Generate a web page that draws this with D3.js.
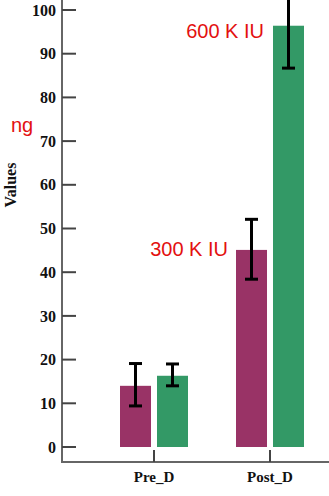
<!DOCTYPE html>
<html>
<head>
<meta charset="utf-8">
<script src="https://cdn.jsdelivr.net/npm/d3@7"></script>
<style>
  html, body { margin: 0; padding: 0; background: #fff; }
  svg { display: block; }
  .tick-label { font-family: "Liberation Serif", "Times New Roman", serif; font-weight: bold; font-size: 16px; fill: #111; }
  .note { font-family: "Liberation Sans", Arial, sans-serif; font-size: 20px; fill: #e3100f; }
</style>
</head>
<body>
<svg id="chart" width="329" height="496"></svg>
<script>
const groups = ["Pre_D", "Post_D"];
const series = ["300 K IU", "600 K IU"];
const meanValues = [
  [14.0, 16.3],  // Pre_D
  [45.1, 96.4]   // Post_D
];
const errLow = [
  [9.4, 14.0],
  [38.4, 86.7]
];
const errHigh = [
  [19.1, 19.0],
  [52.1, 106.1]
];
const yTicks = [0, 10, 20, 30, 40, 50, 60, 70, 80, 90, 100];
const colors = ["#993366", "#339966"];

const svg = d3.select("#chart");
const width = 329;
const height = 496;
const axisX = 62;
const axisY = 462;

const y = d3.scaleLinear().domain([0, 100]).range([447, 10]);
const x0 = d3.scaleBand().domain(groups).range([96, 328]).padding(0);
const x1 = d3.scaleBand().domain(series).range([0, 68]).paddingInner(0.162);

const clip = svg.append("defs").append("clipPath").attr("id", "plot-clip");
clip.append("rect").attr("x", axisX).attr("y", 0).attr("width", width - axisX).attr("height", axisY);

const plot = svg.append("g").attr("clip-path", "url(#plot-clip)");

const rows = [];
groups.forEach((g, gi) => {
  series.forEach((s, si) => {
    rows.push({ group: g, series: s, si, value: meanValues[gi][si], lo: errLow[gi][si], hi: errHigh[gi][si] });
  });
});

const barX = (d) => x0(d.group) + x0.bandwidth() / 2 - 34 + x1(d.series);

plot.selectAll(".bar")
  .data(rows)
  .join("rect")
  .attr("class", "bar")
  .attr("x", barX)
  .attr("y", (d) => y(d.value))
  .attr("width", x1.bandwidth())
  .attr("height", (d) => y(0) - y(d.value))
  .attr("fill", (d) => colors[d.si]);

const err = plot.selectAll(".err")
  .data(rows)
  .join("g")
  .attr("class", "err")
  .attr("stroke", "#000")
  .attr("stroke-width", 3);

err.append("line")
  .attr("x1", (d) => barX(d) + x1.bandwidth() / 2)
  .attr("x2", (d) => barX(d) + x1.bandwidth() / 2)
  .attr("y1", (d) => y(d.lo))
  .attr("y2", (d) => y(d.hi));

["lo", "hi"].forEach((k) => {
  err.append("line")
    .attr("x1", (d) => barX(d) + x1.bandwidth() / 2 - 6.5)
    .attr("x2", (d) => barX(d) + x1.bandwidth() / 2 + 6.5)
    .attr("y1", (d) => y(d[k]))
    .attr("y2", (d) => y(d[k]));
});

// y axis
const yAxis = svg.append("g").attr("transform", `translate(${axisX},0)`);
yAxis.append("line").attr("x1", 0).attr("x2", 0).attr("y1", 0).attr("y2", axisY)
  .attr("stroke", "#666").attr("stroke-width", 2);
yAxis.selectAll(".yt")
  .data(yTicks)
  .join("line")
  .attr("x1", 0).attr("x2", 14)
  .attr("y1", (d) => y(d)).attr("y2", (d) => y(d))
  .attr("stroke", "#444").attr("stroke-width", 2);
yAxis.selectAll(".tick-label")
  .data(yTicks)
  .join("text")
  .attr("class", "tick-label")
  .attr("x", -6)
  .attr("y", (d) => y(d))
  .attr("dy", "0.35em")
  .attr("text-anchor", "end")
  .text((d) => d);

// x axis
const xAxis = svg.append("g").attr("transform", `translate(0,${axisY})`);
xAxis.append("line").attr("x1", axisX - 1).attr("x2", width).attr("y1", 0).attr("y2", 0)
  .attr("stroke", "#666").attr("stroke-width", 2);
xAxis.selectAll(".xt")
  .data(groups)
  .join("line")
  .attr("x1", (d) => x0(d) + x0.bandwidth() / 2)
  .attr("x2", (d) => x0(d) + x0.bandwidth() / 2)
  .attr("y1", 0).attr("y2", -12)
  .attr("stroke", "#444").attr("stroke-width", 2);
xAxis.selectAll(".tick-label")
  .data(groups)
  .join("text")
  .attr("class", "tick-label")
  .attr("x", (d) => x0(d) + x0.bandwidth() / 2)
  .attr("y", 20)
  .attr("text-anchor", "middle")
  .style("font-size", "15px")
  .text((d) => d);

// axis title
svg.append("text")
  .attr("class", "tick-label")
  .attr("transform", "translate(16,185) rotate(-90)")
  .attr("text-anchor", "middle")
  .style("font-size", "16px")
  .text("Values");

// annotations
svg.append("text").attr("class", "note").attr("x", 11).attr("y", 132).text("ng");
svg.append("text").attr("class", "note").attr("x", 228).attr("y", 256).attr("text-anchor", "end").text(series[0]);
svg.append("text").attr("class", "note").attr("x", 264).attr("y", 38).attr("text-anchor", "end").text(series[1]);
</script>
</body>
</html>
